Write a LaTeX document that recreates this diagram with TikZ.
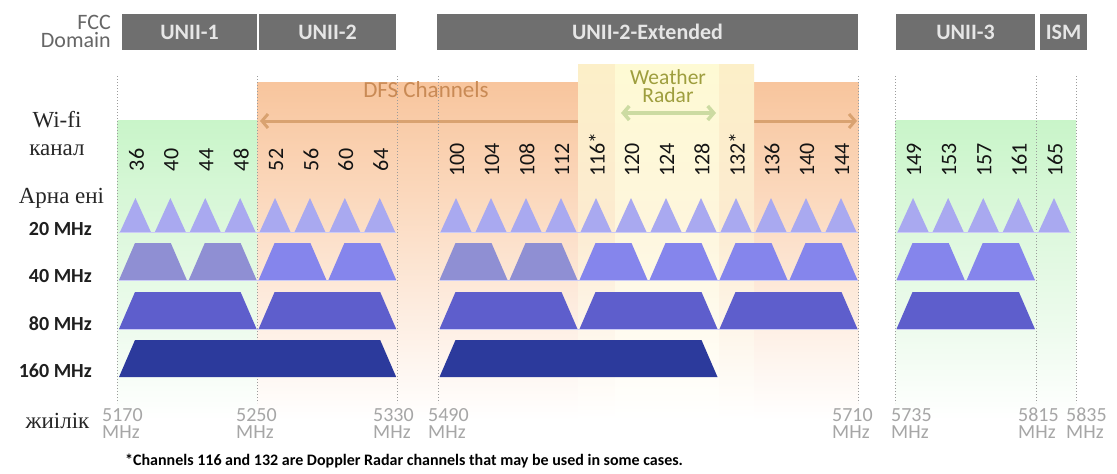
\documentclass[tikz,border=0pt]{standalone}
\usepackage{fontspec}
\setmainfont{Liberation Serif}
\newfontfamily\calib{Carlito}
\usetikzlibrary{arrows.meta}

% palette
\definecolor{hdrgray}{HTML}{6F6F6F}
\definecolor{hdrtext}{HTML}{E6E6E6}
\definecolor{fccgray}{HTML}{666666}
\definecolor{dfstop}{HTML}{F8C59D}
\definecolor{dfsmid}{HTML}{FBD9BE}
\definecolor{dfslow}{HTML}{FDEBDD}
\definecolor{dfstext}{HTML}{C98A55}
\definecolor{dfsarrow}{HTML}{D9A270}
\definecolor{wxedgetop}{HTML}{FCEFC8}
\definecolor{wxedgemid}{HTML}{FCEBD0}
\definecolor{wxcoretop}{HTML}{FEFAD4}
\definecolor{wxcoremid}{HTML}{FEF6DC}
\definecolor{wxtext}{HTML}{9E9E3E}
\definecolor{wxarrow}{HTML}{CCDBA2}
\definecolor{grtop}{HTML}{C9F5C9}
\definecolor{grmid}{HTML}{DDF8DD}
\definecolor{grlow}{HTML}{EEFBEE}
\definecolor{bwA}{HTML}{A9A9F0}
\definecolor{bwB}{HTML}{8585EC}
\definecolor{bwBdull}{HTML}{8F8FD3}
\definecolor{bwC}{HTML}{5E5ECC}
\definecolor{bwD}{HTML}{2C3A9C}
\definecolor{freqgray}{HTML}{A6A6A6}
\definecolor{guidegray}{HTML}{9C9C9C}

\tikzset{
  hdrbar/.style={fill=hdrgray, text=hdrtext, inner sep=0pt, minimum height=36pt,
    font=\calib\bfseries\fontsize{22}{24}\selectfont},
  rowlabel/.style={anchor=base east, inner sep=0pt, text=black!88,
    font=\calib\bfseries\fontsize{20}{22}\selectfont},
  kzlabel/.style={anchor=base, inner sep=0pt, text=black!85,
    font=\fontsize{23}{25}\selectfont},
  chnum/.style={rotate=90, inner sep=0pt, text=black!92,
    font=\calib\fontsize{22}{24}\selectfont},
  freq/.style={anchor=south west, align=left, inner sep=0pt, text=freqgray,
    font=\calib\fontsize{20}{17}\selectfont},
  guide/.style={draw=guidegray, line width=0.9pt, dash pattern=on 1.1pt off 1.9pt},
  rowbase/.style={line width=1pt, draw=bwA!60},
  barb/.tip={Straight Barb[length=6pt,width=14pt]},
}

% 20 MHz channel: left edge, channel width
\newcommand\chtri[2]{\fill[bwA] ({#1+2},232) -- ({#1+#2/2},198) -- ({#1+#2-2},232) -- cycle;}
% wider channel: colour, left, right, top y, bottom y
\newcommand\chtrap[5]{\fill[#1] ({#2+1},#5) -- ({#2+17},#4) -- ({#3-17},#4) -- ({#3-1},#5) -- cycle;}

\begin{document}
\begin{tikzpicture}[x=1pt,y=-1pt]
\useasboundingbox (0,0) rectangle (1117,474);
\fill[white] (0,0) rectangle (1117,474);

% ---- background zones ----
% DFS (orange)
\shade[top color=dfstop, bottom color=dfsmid] (257,82) rectangle (858.5,200);
\shade[top color=dfsmid, bottom color=dfslow] (257,200) rectangle (858.5,300);
\shade[top color=dfslow, bottom color=white] (257,300) rectangle (858.5,420);
% non-DFS (green)
\foreach \xa/\xb in {117.5/257, 895.5/1076} {
  \shade[top color=grtop, bottom color=grmid] (\xa,120) rectangle (\xb,230);
  \shade[top color=grmid, bottom color=grlow] (\xa,230) rectangle (\xb,330);
  \shade[top color=grlow, bottom color=white] (\xa,330) rectangle (\xb,420);
}

% DFS span arrow
\coordinate (dfsL) at (260,121);
\coordinate (dfsR) at (857,121);
\draw[dfsarrow, line width=3pt, barb-barb] (dfsL) -- (dfsR);

% weather radar band
\foreach \xa/\xb in {578/615, 719/754} {
  \shade[top color=wxedgetop, bottom color=wxedgemid] (\xa,64) rectangle (\xb,220);
  \shade[top color=wxedgemid, bottom color=white] (\xa,220) rectangle (\xb,420);
}
\shade[top color=wxcoretop, bottom color=wxcoremid] (615,64) rectangle (719,220);
\shade[top color=wxcoremid, bottom color=white] (615,220) rectangle (719,420);

\node[anchor=south, align=center, inner sep=0pt, text=wxtext,
      font=\calib\fontsize{21.5}{17.5}\selectfont] (wx) at (668,102.5) {Weather\\Radar};
\coordinate (wxL) at (621,113);
\coordinate (wxR) at (716,113);
\draw[wxarrow, line width=3.5pt, barb-barb] (wxL) -- (wxR);

\node[anchor=base, inner sep=0pt, text=dfstext, font=\calib\fontsize{23}{25}\selectfont] (dfs) at (426,97) {DFS Channels};

% ---- band edges ----
\foreach \x in {117.5, 257, 397, 438.5, 858.5, 895.5, 1036.5, 1076}
  \draw[guide] (\x,76) -- (\x,403);

% ---- header ----
\node[anchor=south east, align=right, inner sep=0pt, text=fccgray,
      font=\calib\fontsize{22}{18}\selectfont] (fcc) at (111,48) {FCC\\Domain};
\node[hdrbar, minimum width=135pt] (u1) at (189.5,32) {UNII-1};
\node[hdrbar, minimum width=137pt] (u2) at (327.5,32) {UNII-2};
\node[hdrbar, minimum width=421pt] (u2e) at (647.5,32) {UNII-2-Extended};
\node[hdrbar, minimum width=139pt] (u3) at (965.5,32) {UNII-3};
\node[hdrbar, minimum width=47pt] (ism) at (1063.5,32) {ISM};

% ---- channel numbers ----
\foreach \n [count=\i from 0] in {36,40,44,48,52,56,60,64}
  \node[chnum] (c\n) at ({118+34.9*(\i+0.5)+1},160) {\n};
\foreach \n [count=\i from 0] in {100,104,108,112,116\rlap{*},120,124,128,132\rlap{*},136,140,144}
  \node[chnum] (d\i) at ({438.5+35*(\i+0.5)+1},160) {\n};
\foreach \n [count=\i from 0] in {149,153,157,161}
  \node[chnum] (c\n) at ({895.5+35.1*(\i+0.5)+1},160) {\n};
\node[chnum] (c165) at ({1036.5+17.5+1},160) {165};

% ---- 20 MHz ----
\foreach \i in {0,...,7} {\pgfmathsetmacro\xl{118+34.9*\i}\chtri{\xl}{34.9}}
\foreach \i in {0,...,11} {\pgfmathsetmacro\xl{438.5+35*\i}\chtri{\xl}{35}}
\foreach \i in {0,...,3} {\pgfmathsetmacro\xl{895.5+35.1*\i}\chtri{\xl}{35.1}}
\chtri{1036.5}{35}

% ---- 40 MHz ----
\foreach \i in {0,...,3} {
  \pgfmathsetmacro\xa{118+69.8*\i}\pgfmathsetmacro\xb{\xa+69.8}
  \ifnum\i<2 \def\cc{bwBdull}\else\def\cc{bwB}\fi
  \chtrap{\cc}{\xa}{\xb}{243}{280}}
\foreach \i in {0,...,5} {
  \pgfmathsetmacro\xa{438.5+70*\i}\pgfmathsetmacro\xb{\xa+70}
  \ifnum\i<2 \def\cc{bwBdull}\else\def\cc{bwB}\fi
  \chtrap{\cc}{\xa}{\xb}{243}{280}}
\foreach \i in {0,1} {
  \pgfmathsetmacro\xa{895.5+70.2*\i}\pgfmathsetmacro\xb{\xa+70.2}
  \chtrap{bwB}{\xa}{\xb}{243}{280}}

% ---- 80 MHz ----
\chtrap{bwC}{118}{257.6}{292}{329}
\chtrap{bwC}{257.6}{397.2}{292}{329}
\foreach \i in {0,1,2} {
  \pgfmathsetmacro\xa{438.5+140*\i}\pgfmathsetmacro\xb{\xa+140}
  \chtrap{bwC}{\xa}{\xb}{292}{329}}
\chtrap{bwC}{895.5}{1035.9}{292}{329}

% ---- 160 MHz ----
\chtrap{bwD}{118}{397.2}{340}{377}
\chtrap{bwD}{438.5}{718.5}{340}{377}

% thin base lines under rows
\foreach \y in {232.6, 280.6, 329.6} {
  \draw[rowbase] (119,\y) -- (396,\y);
  \draw[rowbase] (439.5,\y) -- (857.5,\y);
}
\draw[rowbase] (896.5,232.6) -- (1070.5,232.6);
\draw[rowbase] (896.5,280.6) -- (1035,280.6);
\draw[rowbase] (896.5,329.6) -- (1035,329.6);

% ---- row labels ----
\node[kzlabel] (wifi) at (57,127) {Wi-fi};
\node[kzlabel] (kanal) at (57,155) {канал};
\node[kzlabel] (arna) at (61.5,203.5) {Арна ені};
\node[rowlabel] (r20) at (92,235) {20 MHz};
\node[rowlabel] (r40) at (92,282) {40 MHz};
\node[rowlabel] (r80) at (92,330) {80 MHz};
\node[rowlabel] (r160) at (92,377) {160 MHz};
\node[kzlabel] (zhiilik) at (57.5,428) {жиілік};

% ---- frequencies ----
\foreach \x/\f in {102/5170, 236/5250, 373/5330, 428/5490, 832/5710, 891/5735, 1018/5815, 1066/5835}
  \node[freq] (f\f) at (\x,439) {\f\\MHz};

% ---- footnote ----
\node[anchor=base west, inner sep=0pt, text=black, font=\calib\bfseries\fontsize{16}{18}\selectfont] (note) at (125,465)
  {*Channels 116 and 132 are Doppler Radar channels that may be used in some cases.};
\end{tikzpicture}
\end{document}
